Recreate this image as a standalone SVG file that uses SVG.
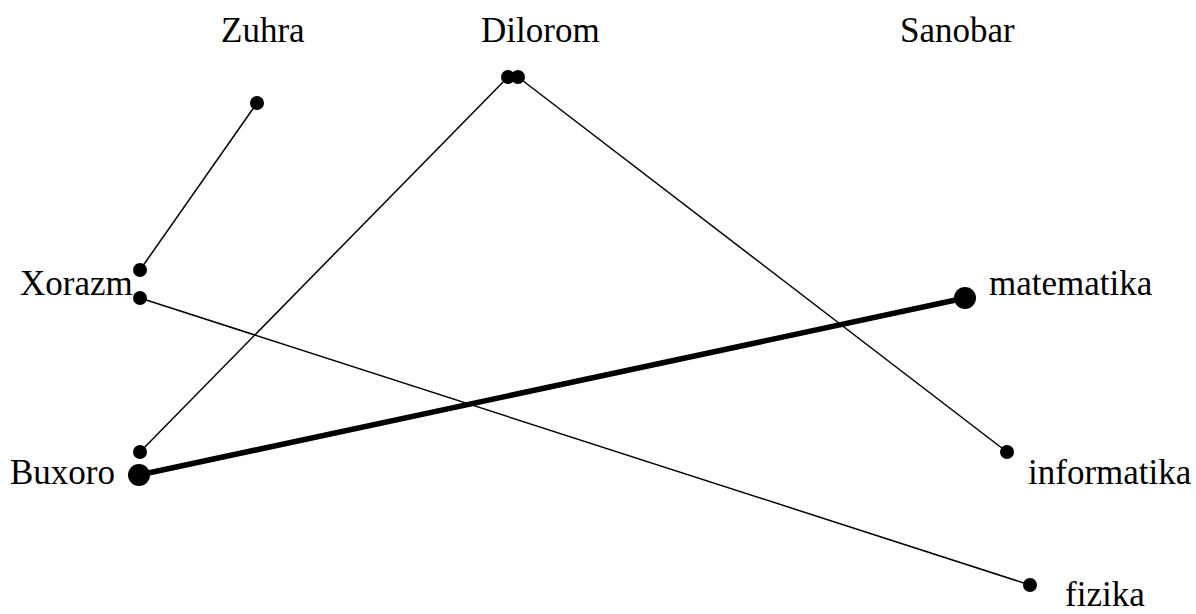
<svg xmlns="http://www.w3.org/2000/svg" width="1196" height="614" viewBox="0 0 1196 614">
<style>
text{font-family:"Liberation Serif","Times New Roman",serif;font-size:35px;fill:#000}
.l{stroke:#000;stroke-width:1.5;fill:none}
.t{stroke:#000;stroke-width:5.5;fill:none}
.d{fill:#000}
</style>
<rect width="1196" height="614" fill="#fff"/>
<g id="connectors">
<line class="l" x1="257" y1="103" x2="140" y2="270"/>
<line class="l" x1="508" y1="77" x2="140" y2="452"/>
<line class="l" x1="518" y1="77" x2="1007" y2="452"/>
<line class="l" x1="140" y1="298" x2="1030" y2="585"/>
<line class="t" x1="139" y1="475" x2="965" y2="298"/>
</g>
<g id="Zuhra"><text x="221" y="42">Zuhra</text><circle class="d" cx="257" cy="103" r="7"/></g>
<g id="Dilorom"><text x="481" y="42">Dilorom</text><circle class="d" cx="508" cy="77" r="7"/><circle class="d" cx="518" cy="77" r="7"/></g>
<g id="Sanobar"><text x="900" y="42">Sanobar</text></g>
<g id="Xorazm"><text x="20" y="295">Xorazm</text><circle class="d" cx="140" cy="270" r="7"/><circle class="d" cx="140" cy="298" r="7"/></g>
<g id="Buxoro"><text x="10" y="484">Buxoro</text><circle class="d" cx="140" cy="452" r="7"/><circle class="d" cx="139" cy="475" r="11"/></g>
<g id="matematika"><text x="989" y="295">matematika</text><circle class="d" cx="965" cy="298" r="11"/></g>
<g id="informatika"><text x="1028" y="484">informatika</text><circle class="d" cx="1007" cy="452" r="7"/></g>
<g id="fizika"><text x="1065" y="606">fizika</text><circle class="d" cx="1030" cy="585" r="7"/></g>
</svg>
